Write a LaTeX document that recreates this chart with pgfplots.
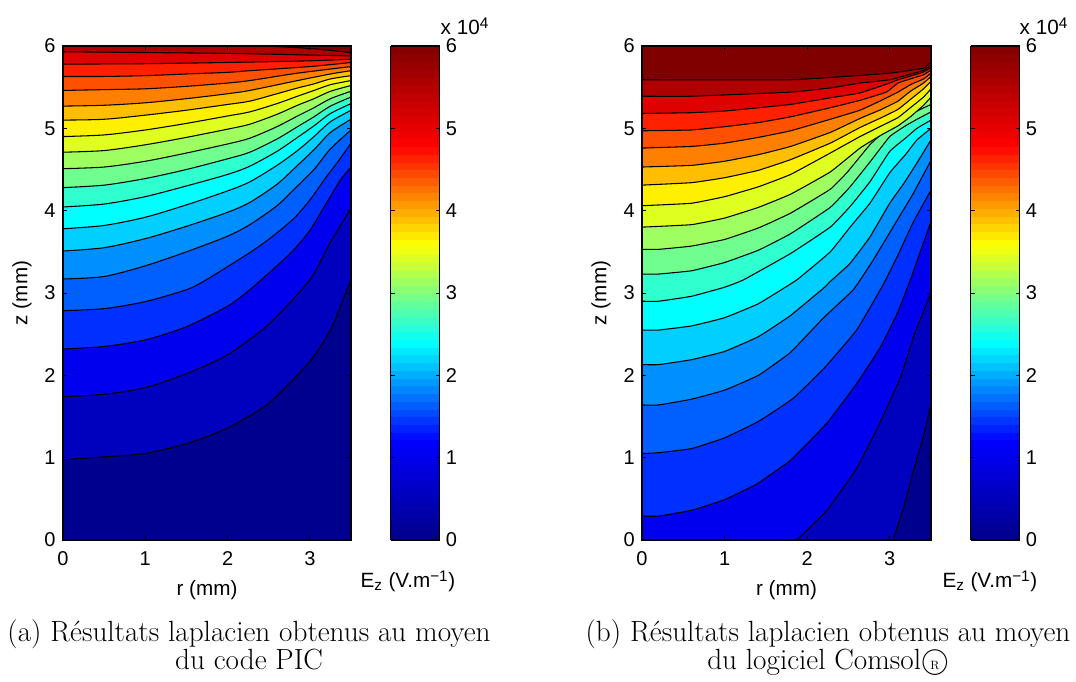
\documentclass[border=0pt]{standalone}
\usepackage{fontspec}
\usepackage{pgfplots}
\pgfplotsset{compat=1.18}
\newfontfamily\hv{Liberation Sans}
\definecolor{c0}{RGB}{0,0,143}
\definecolor{c1}{RGB}{0,0,191}
\definecolor{c2}{RGB}{0,0,239}
\definecolor{c3}{RGB}{0,48,255}
\definecolor{c4}{RGB}{0,96,255}
\definecolor{c5}{RGB}{0,143,255}
\definecolor{c6}{RGB}{0,207,255}
\definecolor{c7}{RGB}{0,255,255}
\definecolor{c8}{RGB}{48,255,207}
\definecolor{c9}{RGB}{112,255,143}
\definecolor{c10}{RGB}{160,255,96}
\definecolor{c11}{RGB}{223,255,32}
\definecolor{c12}{RGB}{255,239,0}
\definecolor{c13}{RGB}{255,191,0}
\definecolor{c14}{RGB}{255,128,0}
\definecolor{c15}{RGB}{255,80,0}
\definecolor{c16}{RGB}{255,32,0}
\definecolor{c17}{RGB}{223,0,0}
\definecolor{c18}{RGB}{175,0,0}
\definecolor{c19}{RGB}{128,0,0}
% region above a contour line, then the line
\newcommand\cf[3]{%
  \addplot[fill=c#1,draw=none,forget plot] coordinates {#2 #3} --cycle;
  \addplot[black,line width=0.8pt,smooth,tension=\ten,forget plot] coordinates {#2};}
\pgfplotsset{
  colormap={mjet}{rgb=(0,0,0.53) rgb=(0,0,1) rgb=(0,1,1) rgb=(1,1,0) rgb=(1,0,0) rgb=(0.5,0,0)},
  panel/.style={
    scale only axis, width=#1, height=370.5pt,
    xmin=0,xmax=3.5,ymin=0,ymax=6,
    xtick={0,1,2,3},ytick={0,1,2,3,4,5,6},
    tick align=inside, major tick length=3pt, axis on top,
    axis line style={line width=0.9pt}, tick style={line width=0.6pt,black},
    tick label style={font=\hv\fontsize{15}{17}\selectfont},
    /pgf/number format/assume math mode=true,
    xlabel={r (mm)}, ylabel={z (mm)},
    every axis x label/.style={at={(axis description cs:0.5,0)},anchor=north,yshift=-27pt,font=\hv\fontsize{15.5}{17}\selectfont},
    every axis y label/.style={at={(axis description cs:-0.142,0.5)},anchor=center,rotate=90,font=\hv\fontsize{15.5}{17}\selectfont},
    xticklabel style={yshift=-5pt}, yticklabel style={xshift=-2pt},
    colormap name=mjet,
    point meta min=0, point meta max=60000,
    colorbar sampled,
    colorbar style={
      at={(parent axis.south east)},anchor=south west,xshift=21.25pt,
      width=36.75pt,height=370.5pt,
      samples=65,
      ytick={0,10000,20000,30000,40000,50000,60000},
      yticklabels={0,1,2,3,4,5,6},
      ytick pos=both, yticklabel pos=right, xtick=\empty,
      tick align=inside, major tick length=3pt,
      axis on top, axis line style={line width=0.9pt},
      tick style={line width=0.6pt,black},
      yticklabel style={font=\hv\fontsize{15}{17}\selectfont,xshift=1pt},
      scaled y ticks=false,
      /pgf/number format/assume math mode=true,
    },
  }
}
\begin{document}
\begin{tikzpicture}[x=0.75pt,y=0.75pt]
\path[use as bounding box] (0,0) rectangle (1076,682);
\def\ten{0.45}
\begin{axis}[panel=216pt,at={(47.25pt,106.5pt)},anchor=south west]
\addplot[fill=c0,draw=none,forget plot] coordinates {(0,0) (3.5,0) (3.5,6) (0,6)} --cycle;
\cf{1}{(0,0.975) (0.5,1.01) (1,1.05) (1.5,1.17) (2,1.36) (2.5,1.66) (3,2.17) (3.25,2.55) (3.4,2.91) (3.5,3.16)}{(3.5,6) (0,6)}
\cf{2}{(0,1.74) (0.5,1.77) (1,1.85) (1.5,2.02) (2,2.25) (2.5,2.62) (3,3.16) (3.24,3.6) (3.5,4.03)}{(3.5,6) (0,6)}
\cf{3}{(0,2.32) (0.5,2.35) (1,2.43) (1.5,2.59) (2,2.84) (2.27,3.04) (2.6,3.33) (2.8,3.52) (3,3.76) (3.2,4.09) (3.37,4.37) (3.5,4.53)}{(3.5,6) (0,6)}
\cf{4}{(0,2.785) (0.5,2.81) (1,2.895) (1.5,3.04) (1.74,3.16) (2.27,3.49) (2.51,3.66) (2.8,3.9) (3,4.13) (3.2,4.41) (3.33,4.58) (3.5,4.82)}{(3.5,6) (0,6)}
\cf{5}{(0,3.17) (0.5,3.2) (1,3.33) (1.5,3.5) (2,3.69) (2.27,3.83) (2.6,4.06) (2.85,4.3) (3.05,4.5) (3.25,4.75) (3.5,4.98)}{(3.5,6) (0,6)}
\cf{6}{(0,3.51) (0.5,3.55) (1,3.66) (1.5,3.81) (2,3.98) (2.27,4.1) (2.6,4.32) (2.85,4.55) (3.05,4.74) (3.25,4.95) (3.5,5.11)}{(3.5,6) (0,6)}
\cf{7}{(0,3.78) (0.5,3.82) (1,3.92) (1.5,4.07) (2,4.24) (2.27,4.35) (2.6,4.55) (2.85,4.73) (3.05,4.9) (3.25,5.08) (3.5,5.22)}{(3.5,6) (0,6)}
\cf{8}{(0,4.045) (0.5,4.08) (1,4.17) (1.5,4.3) (2,4.44) (2.27,4.54) (2.6,4.72) (2.85,4.89) (3.05,5.03) (3.25,5.18) (3.5,5.3)}{(3.5,6) (0,6)}
\cf{9}{(0,4.28) (0.5,4.31) (1,4.39) (1.5,4.5) (2,4.63) (2.27,4.71) (2.6,4.87) (2.85,5.02) (3.05,5.14) (3.25,5.27) (3.5,5.38)}{(3.5,6) (0,6)}
\cf{10}{(0,4.51) (0.5,4.53) (1,4.6) (1.5,4.7) (2,4.81) (2.27,4.88) (2.6,5.02) (2.85,5.15) (3.05,5.25) (3.25,5.36) (3.5,5.45)}{(3.5,6) (0,6)}
\cf{11}{(0,4.71) (0.5,4.73) (1,4.8) (1.5,4.89) (2,4.99) (2.27,5.05) (2.6,5.17) (2.85,5.28) (3.05,5.36) (3.25,5.45) (3.5,5.52)}{(3.5,6) (0,6)}
\cf{12}{(0,4.9) (0.5,4.92) (1,4.98) (1.5,5.06) (2,5.15) (2.27,5.2) (2.6,5.3) (2.85,5.39) (3.05,5.46) (3.25,5.53) (3.5,5.58)}{(3.5,6) (0,6)}
\cf{13}{(0,5.1) (0.5,5.11) (1,5.16) (1.5,5.22) (2,5.29) (2.27,5.33) (2.6,5.42) (2.85,5.49) (3.05,5.54) (3.25,5.6) (3.5,5.64)}{(3.5,6) (0,6)}
\cf{14}{(0,5.27) (0.5,5.28) (1,5.31) (1.5,5.36) (2,5.42) (2.27,5.46) (2.85,5.58) (3.25,5.66) (3.5,5.7)}{(3.5,6) (0,6)}
\cf{15}{(0,5.46) (0.5,5.47) (1,5.48) (1.5,5.51) (2,5.55) (2.27,5.58) (2.85,5.67) (3.5,5.75)}{(3.5,6) (0,6)}
\cf{16}{(0,5.63) (0.5,5.63) (1,5.64) (1.5,5.66) (2,5.68) (2.27,5.7) (3,5.75) (3.5,5.8)}{(3.5,6) (0,6)}
\cf{17}{(0,5.78) (1,5.785) (2,5.8) (3,5.82) (3.5,5.84)}{(3.5,6) (0,6)}
\cf{18}{(0,5.93) (2,5.91) (3,5.89) (3.5,5.88)}{(3.5,6) (0,6)}
\cf{19}{(2.45,6) (3,5.97) (3.5,5.92)}{(3.5,6)}
\end{axis}
\def\ten{0.2}
\begin{axis}[panel=216.75pt,at={(481.5pt,106.5pt)},anchor=south west]
\addplot[fill=c0,draw=none,forget plot] coordinates {(0,0) (3.5,0) (3.5,6) (0,6)} --cycle;
\cf{1}{(3.04,0) (3.17,0.4) (3.29,0.85) (3.41,1.26) (3.5,1.66)}{(3.5,6) (0,6) (0,0)}
\cf{2}{(1.875,0) (2.24,0.36) (2.6,0.87) (2.88,1.42) (3.13,1.97) (3.3,2.5) (3.5,3.0)}{(3.5,6) (0,6) (0,0)}
\cf{3}{(0,0.29) (0.2,0.29) (0.6,0.36) (1,0.49) (1.39,0.68) (1.8,0.97) (2.24,1.42) (2.6,1.9) (2.88,2.33) (3.09,2.75) (3.25,3.16) (3.5,3.87)}{(3.5,6) (0,6)}
\cf{4}{(0,1.05) (0.2,1.06) (0.6,1.11) (1,1.24) (1.41,1.44) (1.83,1.72) (2.2,2.08) (2.6,2.55) (2.92,3.1) (3.09,3.44) (3.28,3.85) (3.5,4.25)}{(3.5,6) (0,6)}
\cf{5}{(0,1.64) (0.2,1.64) (0.6,1.71) (1,1.82) (1.41,2) (1.8,2.28) (2.2,2.7) (2.56,3.04) (2.8,3.4) (3.04,3.8) (3.28,4.2) (3.5,4.61)}{(3.5,6) (0,6)}
\cf{6}{(0,2.13) (0.2,2.13) (0.6,2.19) (1,2.29) (1.41,2.47) (1.79,2.72) (2.2,3.06) (2.28,3.14) (2.52,3.36) (2.76,3.68) (3,4.09) (3.17,4.33) (3.33,4.58) (3.5,4.86)}{(3.5,6) (0,6)}
\cf{7}{(0,2.55) (0.2,2.55) (0.6,2.6) (1,2.7) (1.41,2.87) (1.875,3.16) (2.28,3.5) (2.52,3.8) (2.76,4.09) (3,4.46) (3.19,4.68) (3.33,4.86) (3.5,5)}{(3.5,6) (0,6)}
\cf{8}{(0,2.9) (0.2,2.9) (0.6,2.96) (1,3.07) (1.23,3.16) (1.8,3.48) (2.28,3.8) (2.52,4.05) (2.76,4.35) (3,4.72) (3.19,4.88) (3.33,5.0) (3.5,5.1)}{(3.5,6) (0,6)}
\cf{9}{(0,3.23) (0.2,3.23) (0.6,3.27) (1,3.37) (1.41,3.52) (1.8,3.72) (2.28,4.04) (2.52,4.29) (2.76,4.59) (3,4.9) (3.19,5.03) (3.33,5.11) (3.5,5.2)}{(3.5,6) (0,6)}
\cf{10}{(0,3.53) (0.2,3.53) (0.6,3.57) (1,3.65) (1.41,3.79) (1.8,3.97) (2.28,4.26) (2.48,4.46) (2.76,4.8) (3,5.02) (3.19,5.13) (3.33,5.21) (3.5,5.29)}{(3.5,6) (0,6)}
\cf{11}{(0,3.8) (0.6,3.83) (1,3.91) (1.41,4.04) (1.8,4.2) (2.28,4.47) (2.64,4.76) (2.9,4.92) (3.1,5.03) (3.25,5.14) (3.41,5.28) (3.5,5.38)}{(3.5,6) (0,6)}
\cf{12}{(0,4.06) (0.6,4.09) (1,4.17) (1.41,4.29) (1.8,4.44) (2.28,4.7) (2.64,4.9) (2.9,5.03) (3.1,5.13) (3.25,5.25) (3.41,5.38) (3.5,5.48)}{(3.5,6) (0,6)}
\cf{13}{(0,4.31) (0.6,4.34) (1,4.4) (1.41,4.49) (1.8,4.62) (2.28,4.82) (2.64,5.01) (2.9,5.13) (3.1,5.23) (3.25,5.35) (3.41,5.48) (3.5,5.57)}{(3.5,6) (0,6)}
\cf{14}{(0,4.53) (0.6,4.55) (1,4.6) (1.41,4.68) (1.8,4.78) (2.28,4.95) (2.64,5.12) (2.9,5.23) (3.1,5.33) (3.25,5.45) (3.41,5.55) (3.5,5.63)}{(3.5,6) (0,6)}
\cf{15}{(0,4.76) (0.6,4.78) (1,4.82) (1.41,4.89) (1.8,4.97) (2.28,5.11) (2.64,5.22) (2.9,5.34) (3.1,5.44) (3.25,5.53) (3.41,5.6) (3.5,5.67)}{(3.5,6) (0,6)}
\cf{16}{(0,4.97) (0.6,4.98) (1,5.02) (1.41,5.07) (1.8,5.14) (2.28,5.25) (2.64,5.34) (2.96,5.44) (3.1,5.55) (3.25,5.6) (3.41,5.65) (3.5,5.71)}{(3.5,6) (0,6)}
\cf{17}{(0,5.18) (0.6,5.19) (1,5.21) (1.41,5.25) (1.8,5.29) (2.28,5.37) (2.64,5.43) (3,5.55) (3.1,5.59) (3.4,5.68) (3.5,5.74)}{(3.5,6) (0,6)}
\cf{18}{(0,5.39) (0.6,5.39) (1.8,5.44) (2.28,5.49) (2.64,5.55) (3,5.59) (3.4,5.7) (3.5,5.77)}{(3.5,6) (0,6)}
\cf{19}{(0,5.59) (1.8,5.59) (2.6,5.64) (3,5.67) (3.41,5.73) (3.48,5.79) (3.5,5.8)}{(3.5,6) (0,6)}
\end{axis}
\def\Cap{\fontsize{21.9}{24}\selectfont}
\def\Lab{\hv\fontsize{15.5}{17}\selectfont}
\def\Sm{\hv\fontsize{11.5}{12}\selectfont}
\node[anchor=base west,font=\Lab] at (436,647) {x 10$^{\mbox{\Sm 4}}$};
\node[anchor=base west,font=\Lab] at (1015,647) {x 10$^{\mbox{\Sm 4}}$};
\node[anchor=base,font=\Lab] at (408,94) {E$_{\mbox{\Sm z}}$ (V.m$^{\mbox{\Sm −1}}$)};
\node[anchor=base,font=\Lab] at (990,94) {E$_{\mbox{\Sm z}}$ (V.m$^{\mbox{\Sm −1}}$)};
\node[anchor=base,font=\Cap] at (249,40) {(a) Résultats laplacien obtenus au moyen};
\node[anchor=base,font=\Cap] at (249,12) {du code PIC};
\node[anchor=base,font=\Cap] at (828,40) {(b) Résultats laplacien obtenus au moyen};
\node[anchor=base,font=\Cap] at (828,12) {du logiciel Comsol\textcircled{\small R}};
\end{tikzpicture}
\end{document}
